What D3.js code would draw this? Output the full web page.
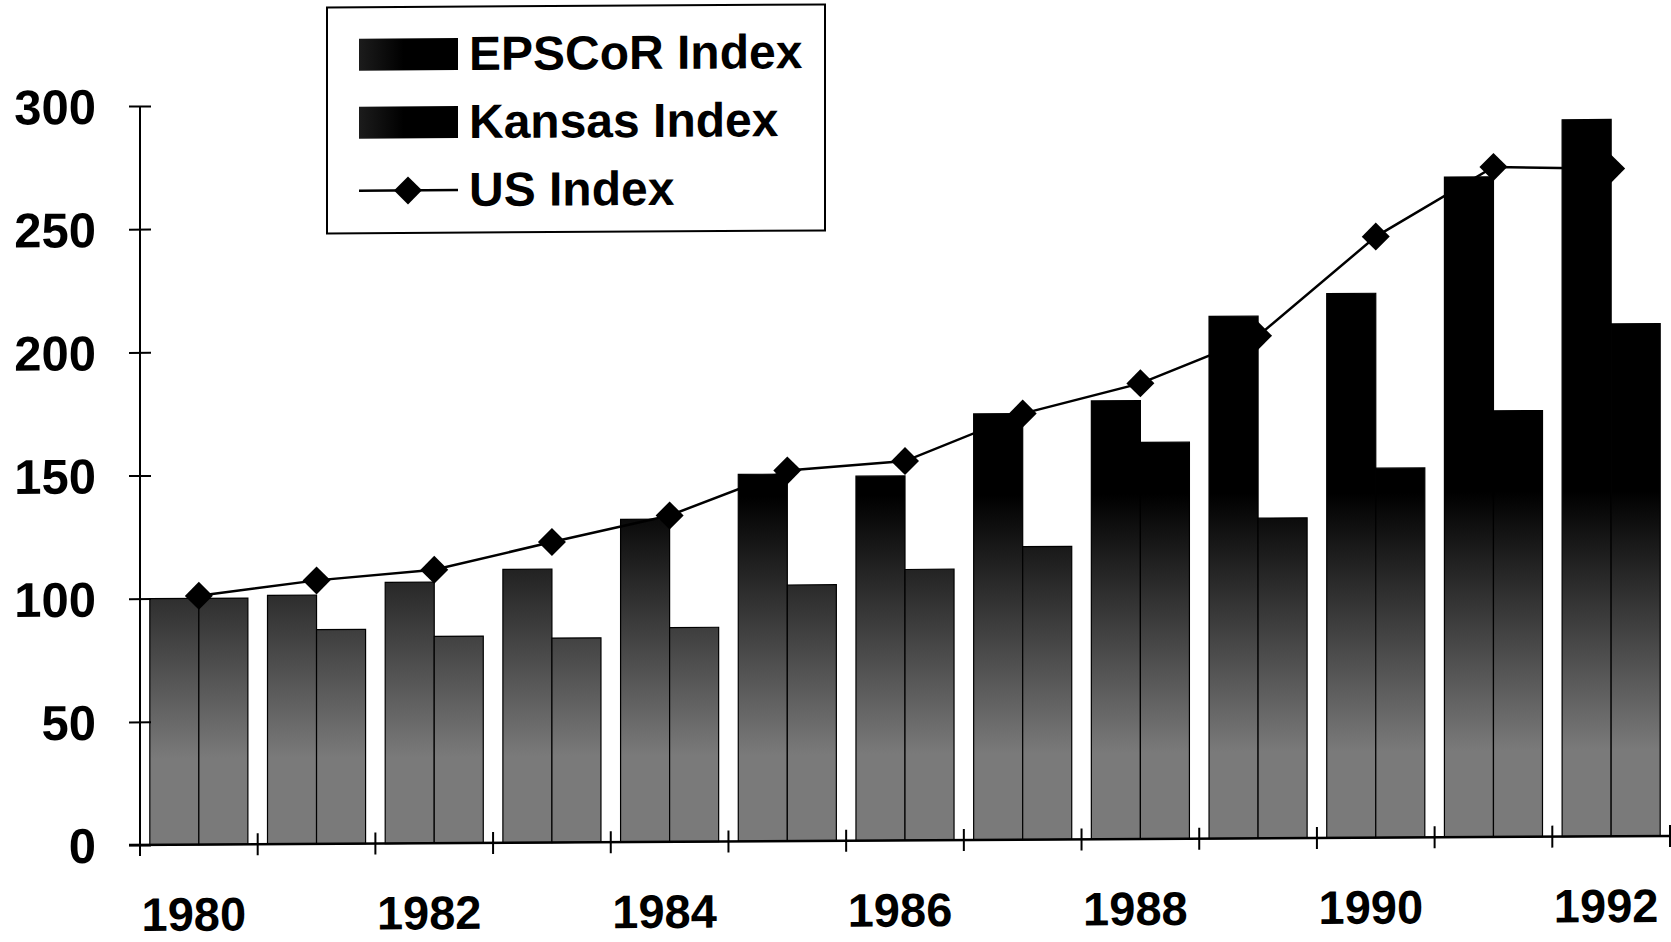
<!DOCTYPE html>
<html>
<head>
<meta charset="utf-8">
<script src="https://cdn.jsdelivr.net/npm/d3@7"></script>
<style>
  html, body { margin: 0; padding: 0; background: #fff; }
  svg { display: block; }
  text { font-family: "Liberation Sans", Arial, Helvetica, sans-serif; font-weight: bold; fill: #000; }
</style>
</head>
<body>
<svg id="chart" width="1671" height="942"></svg>
<script>
// Research funding indices, 1980 = 100
const years = [1980, 1981, 1982, 1983, 1984, 1985, 1986, 1987, 1988, 1989, 1990, 1991, 1992];
const epscorIndex = [100, 101, 106, 111, 131, 149, 148, 173, 178, 212, 221, 268, 291];
const kansasIndex = [100, 87, 84, 83, 87, 104, 110, 119, 161, 130, 150, 173, 208];
const usIndex = [101, 107, 111, 122, 132.5, 150.5, 154, 173, 185, 204, 244, 272, 271];

const yTickValues = [0, 50, 100, 150, 200, 250, 300];
const yearTickLabels = [1980, 1982, 1984, 1986, 1988, 1990, 1992];
const seriesNames = ["EPSCoR Index", "Kansas Index", "US Index"];

const rows = years.map((year, i) => ({
  year,
  epscor: epscorIndex[i],
  kansas: kansasIndex[i],
  us: usIndex[i]
}));

const svg = d3.select("#chart");

const x = d3.scaleBand().domain(years).range([140, 1670]).padding(0);
const xSub = d3.scaleBand().domain(["epscor", "kansas"])
  .range([0, x.bandwidth()]).paddingInner(0).paddingOuter(0.2);
const y = d3.scaleLinear().domain([0, 300]).range([845, 106]);

// Bar shading: dark at the top of the plot, fading to grey near the baseline
const defs = svg.append("defs");
const shade = defs.append("linearGradient")
  .attr("id", "barShade")
  .attr("gradientUnits", "userSpaceOnUse")
  .attr("x1", 0).attr("y1", y(140))
  .attr("x2", 0).attr("y2", y(35));
shade.append("stop").attr("offset", 0).attr("stop-color", "#000");
shade.append("stop").attr("offset", 1).attr("stop-color", "#7a7a7a");

const swatchShade = defs.append("linearGradient")
  .attr("id", "swatchShade")
  .attr("x1", 0).attr("y1", 0).attr("x2", 1).attr("y2", 0);
swatchShade.append("stop").attr("offset", 0).attr("stop-color", "#1c1c1c");
swatchShade.append("stop").attr("offset", 0.45).attr("stop-color", "#000");

// The whole figure leans slightly: the right-hand side sits a little higher
const root = svg.append("g")
  .attr("transform", "translate(140,845) skewY(-0.34) translate(-140,-845)");

// Bars
const groups = root.append("g").attr("class", "bars")
  .selectAll("g").data(rows).join("g")
  .attr("transform", d => `translate(${x(d.year)},0)`);

groups.selectAll("rect")
  .data(d => ["epscor", "kansas"].map(key => ({ key, value: d[key] })))
  .join("rect")
  .attr("x", d => xSub(d.key))
  .attr("width", xSub.bandwidth())
  .attr("y", d => y(d.value))
  .attr("height", d => y(0) - y(d.value))
  .attr("fill", "url(#barShade)")
  .attr("stroke", "#000")
  .attr("stroke-width", 1.2);

// Y axis
const yAxis = root.append("g")
  .attr("transform", "translate(140,0)")
  .call(d3.axisLeft(y).tickValues(yTickValues).tickSize(11).tickPadding(33));
yAxis.select(".domain").remove();
yAxis.selectAll(".tick line")
  .attr("x1", 11).attr("x2", -11)
  .attr("stroke", "#000").attr("stroke-width", 2);
yAxis.selectAll(".tick text")
  .attr("font-size", 49)
  .attr("font-family", "Liberation Sans, Arial, sans-serif")
  .attr("font-weight", "bold")
  .attr("dy", "0.35em");
yAxis.append("line")
  .attr("x1", 0).attr("x2", 0)
  .attr("y1", y(300)).attr("y2", y(0) + 11)
  .attr("stroke", "#000").attr("stroke-width", 2);

// X axis: baseline, ticks on category boundaries, labels on every other year
const xAxis = root.append("g").attr("class", "x-axis");
xAxis.append("line")
  .attr("x1", 129).attr("x2", 1671)
  .attr("y1", y(0)).attr("y2", y(0))
  .attr("stroke", "#000").attr("stroke-width", 2.5);
xAxis.selectAll("line.tick")
  .data(years).join("line")
  .attr("class", "tick")
  .attr("x1", d => x(d) + x.bandwidth()).attr("x2", d => x(d) + x.bandwidth())
  .attr("y1", y(0) - 11).attr("y2", y(0) + 11)
  .attr("stroke", "#000").attr("stroke-width", 2);
xAxis.selectAll("text")
  .data(yearTickLabels).join("text")
  .attr("x", d => x(d) + x.bandwidth() / 2 - 5)
  .attr("y", 931)
  .attr("text-anchor", "middle")
  .attr("font-size", 47)
  .text(d => d);

// US index line with diamond markers
const line = d3.line()
  .x(d => x(d.year) + x.bandwidth() / 2)
  .y(d => y(d.us));
root.append("path")
  .datum(rows)
  .attr("d", line)
  .attr("fill", "none")
  .attr("stroke", "#000")
  .attr("stroke-width", 2.5);

const diamond = d3.symbol(d3.symbolSquare, 392);
root.append("g").selectAll("path")
  .data(rows).join("path")
  .attr("transform", d => `translate(${x(d.year) + x.bandwidth() / 2},${y(d.us)}) rotate(45)`)
  .attr("d", diamond)
  .attr("fill", "#000");

// Legend
const legend = root.append("g").attr("class", "legend");
legend.append("rect")
  .attr("x", 327).attr("y", 8.5)
  .attr("width", 498).attr("height", 226)
  .attr("fill", "#fff").attr("stroke", "#000").attr("stroke-width", 2);

const legendRows = [72, 140, 208];
legend.selectAll("rect.swatch")
  .data(seriesNames.slice(0, 2)).join("rect")
  .attr("class", "swatch")
  .attr("x", 359).attr("width", 99)
  .attr("y", (d, i) => legendRows[i] - 32).attr("height", 32)
  .attr("fill", "url(#swatchShade)");

legend.append("line")
  .attr("x1", 359).attr("x2", 458)
  .attr("y1", legendRows[2] - 16).attr("y2", legendRows[2] - 16)
  .attr("stroke", "#000").attr("stroke-width", 2.5);
legend.append("path")
  .attr("transform", `translate(408,${legendRows[2] - 16}) rotate(45)`)
  .attr("d", diamond)
  .attr("fill", "#000");

legend.selectAll("text")
  .data(seriesNames).join("text")
  .attr("x", 469)
  .attr("y", (d, i) => legendRows[i])
  .attr("font-size", 48)
  .text(d => d);
</script>
</body>
</html>
